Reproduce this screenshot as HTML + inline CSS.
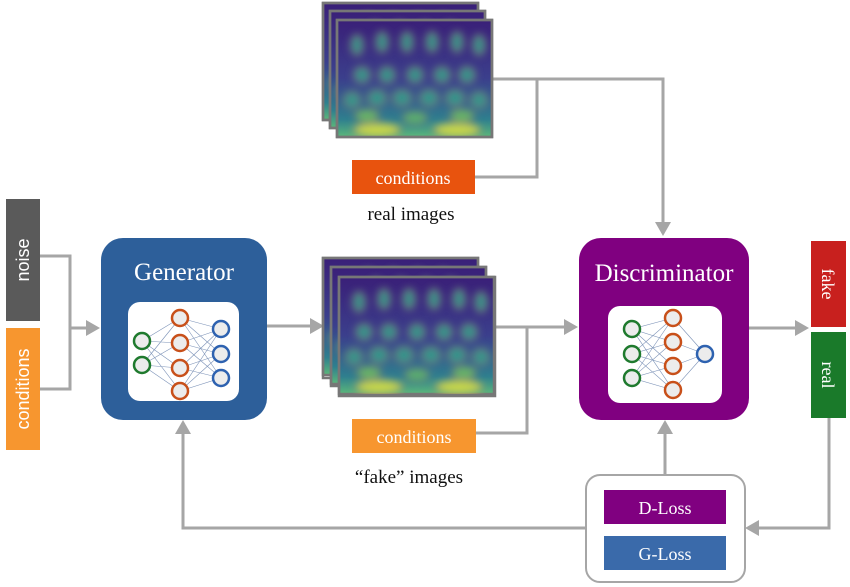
<!DOCTYPE html>
<html><head><meta charset="utf-8"><style>html,body{margin:0;padding:0;background:#fff}svg{display:block}</style></head>
<body>
<svg width="850" height="587" viewBox="0 0 850 587" xmlns="http://www.w3.org/2000/svg" font-family="'Liberation Serif',serif">
<defs>
<linearGradient id="hb" x1="0" y1="0" x2="0" y2="1">
<stop offset="0" stop-color="#3a1f78"/><stop offset="0.5" stop-color="#3b3f8c"/><stop offset="0.85" stop-color="#2f7f8e"/><stop offset="1" stop-color="#5cb87a"/></linearGradient>
<filter id="bl" x="-10%" y="-10%" width="120%" height="120%"><feGaussianBlur stdDeviation="4"/></filter>
<clipPath id="cp"><rect x="0" y="0" width="155" height="117"/></clipPath>
<g id="heat">
<rect x="0" y="0" width="155" height="117" fill="url(#hb)"/>
<g clip-path="url(#cp)" filter="url(#bl)" fill="#2a9b8c" opacity="0.9">
<ellipse cx="20" cy="25" rx="6" ry="10"/><ellipse cx="45" cy="22" rx="6" ry="10"/><ellipse cx="70" cy="22" rx="6" ry="10"/><ellipse cx="95" cy="22" rx="6" ry="10"/><ellipse cx="120" cy="22" rx="6" ry="10"/><ellipse cx="142" cy="25" rx="6" ry="10"/>
<ellipse cx="25" cy="55" rx="8" ry="8"/><ellipse cx="50" cy="55" rx="8" ry="8"/><ellipse cx="78" cy="55" rx="8" ry="8"/><ellipse cx="105" cy="55" rx="8" ry="8"/><ellipse cx="130" cy="55" rx="8" ry="8"/>
<ellipse cx="15" cy="80" rx="8" ry="8"/><ellipse cx="40" cy="78" rx="9" ry="8"/><ellipse cx="65" cy="78" rx="9" ry="8"/><ellipse cx="92" cy="78" rx="9" ry="8"/><ellipse cx="118" cy="78" rx="9" ry="8"/><ellipse cx="142" cy="80" rx="8" ry="8"/>
<ellipse cx="30" cy="96" rx="12" ry="6" fill="#6cc060"/><ellipse cx="78" cy="98" rx="12" ry="6" fill="#5ab86a"/><ellipse cx="125" cy="96" rx="12" ry="6" fill="#6cc060"/>
<ellipse cx="40" cy="110" rx="24" ry="7" fill="#d6e040"/><ellipse cx="120" cy="110" rx="24" ry="7" fill="#d6e040"/>
</g>
</g>
</defs>

<g stroke="#a6a6a6" stroke-width="3" fill="none">
<polyline points="40,256 70,256 70,389 40,389"/>
<line x1="70" y1="328" x2="88" y2="328"/>
<line x1="267" y1="326" x2="312" y2="326"/>
<polyline points="492,79 663,79 663,224"/>
<polyline points="537,79 537,177 475,177"/>
<line x1="495" y1="327" x2="566" y2="327"/>
<polyline points="527,327 527,433 476,433"/>
<line x1="749" y1="328" x2="796" y2="328"/>
<polyline points="829,418 829,528 758,528"/>
<line x1="665" y1="475" x2="665" y2="432"/>
<polyline points="585,528 183,528 183,432"/>
</g>
<g fill="#a6a6a6">
<polygon points="100,328 86,320 86,336"/>
<polygon points="324,326 310,318 310,334"/>
<polygon points="663,236 655,222 671,222"/>
<polygon points="578,327 564,319 564,335"/>
<polygon points="809,328 795,320 795,336"/>
<polygon points="745,528 759,520 759,536"/>
<polygon points="665,420 657,434 673,434"/>
<polygon points="183,420 175,434 191,434"/>
</g>

<rect x="6" y="199" width="34" height="122" fill="#5a5a5a"/>
<text transform="translate(29,260) rotate(-90)" text-anchor="middle" fill="#fff" font-family="'Liberation Sans',sans-serif" font-size="18">noise</text>
<rect x="6" y="328" width="34" height="122" fill="#f7962f"/>
<text transform="translate(29,389) rotate(-90)" text-anchor="middle" fill="#fff" font-family="'Liberation Sans',sans-serif" font-size="18">conditions</text>

<rect x="101" y="238" width="166" height="182" rx="22" fill="#2d5f9a"/>
<text x="184" y="280" text-anchor="middle" fill="#fff" font-size="25">Generator</text>
<rect x="128" y="302" width="111" height="99" rx="12" fill="#fff"/>
<g stroke="#7d93b8" stroke-width="0.6">
<path d="M142 341L180 318M142 341L180 343M142 341L180 368M142 341L180 391M142 365L180 318M142 365L180 343M142 365L180 368M142 365L180 391"/>
<path d="M180 318L221 329M180 318L221 354M180 318L221 378M180 343L221 329M180 343L221 354M180 343L221 378M180 368L221 329M180 368L221 354M180 368L221 378M180 391L221 329M180 391L221 354M180 391L221 378"/>
</g>
<g fill="#ececec" stroke-width="2.5">
<circle cx="142" cy="341" r="8" stroke="#1f7a2e"/><circle cx="142" cy="365" r="8" stroke="#1f7a2e"/>
<circle cx="180" cy="318" r="8" stroke="#c8501a"/><circle cx="180" cy="343" r="8" stroke="#c8501a"/><circle cx="180" cy="368" r="8" stroke="#c8501a"/><circle cx="180" cy="391" r="8" stroke="#c8501a"/>
<circle cx="221" cy="329" r="8" stroke="#2e62b0"/><circle cx="221" cy="354" r="8" stroke="#2e62b0"/><circle cx="221" cy="378" r="8" stroke="#2e62b0"/>
</g>

<g stroke="#777" stroke-width="2.5">
<g transform="translate(323,3)"><use href="#heat"/><rect width="155" height="117" fill="none"/></g>
<g transform="translate(330,11)"><use href="#heat"/><rect width="155" height="117" fill="none"/></g>
<g transform="translate(337,20)"><use href="#heat"/><rect width="155" height="117" fill="none"/></g>
</g>
<rect x="352" y="160" width="123" height="34" fill="#e8530e"/>
<text x="413" y="184" text-anchor="middle" fill="#fff" font-size="18">conditions</text>
<text x="411" y="220" text-anchor="middle" fill="#111" font-size="19">real images</text>

<g stroke="#777" stroke-width="2.5">
<g transform="translate(323,258)"><use href="#heat"/><rect width="155" height="120" fill="none"/></g>
<g transform="translate(331,267)"><use href="#heat"/><rect width="155" height="119" fill="none"/></g>
<g transform="translate(339,277)"><use href="#heat"/><rect width="156" height="119" fill="none"/></g>
</g>
<rect x="352" y="419" width="124" height="34" fill="#f7962f"/>
<text x="414" y="443" text-anchor="middle" fill="#fff" font-size="18">conditions</text>
<text x="409" y="483" text-anchor="middle" fill="#111" font-size="19">“fake” images</text>

<rect x="579" y="238" width="170" height="182" rx="22" fill="#800080"/>
<text x="664" y="281" text-anchor="middle" fill="#fff" font-size="25">Discriminator</text>
<rect x="608" y="306" width="114" height="97" rx="12" fill="#fff"/>
<g stroke="#7d93b8" stroke-width="0.6">
<path d="M632 329L673 318M632 329L673 342M632 329L673 366M632 329L673 390M632 354L673 318M632 354L673 342M632 354L673 366M632 354L673 390M632 378L673 318M632 378L673 342M632 378L673 366M632 378L673 390"/>
<path d="M673 318L705 354M673 342L705 354M673 366L705 354M673 390L705 354"/>
</g>
<g fill="#ececec" stroke-width="2.5">
<circle cx="632" cy="329" r="8" stroke="#1f7a2e"/><circle cx="632" cy="354" r="8" stroke="#1f7a2e"/><circle cx="632" cy="378" r="8" stroke="#1f7a2e"/>
<circle cx="673" cy="318" r="8" stroke="#c8501a"/><circle cx="673" cy="342" r="8" stroke="#c8501a"/><circle cx="673" cy="366" r="8" stroke="#c8501a"/><circle cx="673" cy="390" r="8" stroke="#c8501a"/>
<circle cx="705" cy="354" r="8" stroke="#2e62b0"/>
</g>

<rect x="811" y="241" width="35" height="86" fill="#c8201e"/>
<text transform="translate(822,284) rotate(90)" text-anchor="middle" fill="#fff" font-size="18">fake</text>
<rect x="811" y="332" width="35" height="86" fill="#1a7a2a"/>
<text transform="translate(822,375) rotate(90)" text-anchor="middle" fill="#fff" font-size="18">real</text>

<rect x="586" y="475" width="159" height="107" rx="14" fill="#fff" stroke="#a6a6a6" stroke-width="2"/>
<rect x="604" y="490" width="122" height="34" fill="#800080"/>
<text x="665" y="514" text-anchor="middle" fill="#fff" font-size="18">D-Loss</text>
<rect x="604" y="536" width="122" height="34" fill="#3a6aaa"/>
<text x="665" y="560" text-anchor="middle" fill="#fff" font-size="18">G-Loss</text>
</svg>
</body></html>
